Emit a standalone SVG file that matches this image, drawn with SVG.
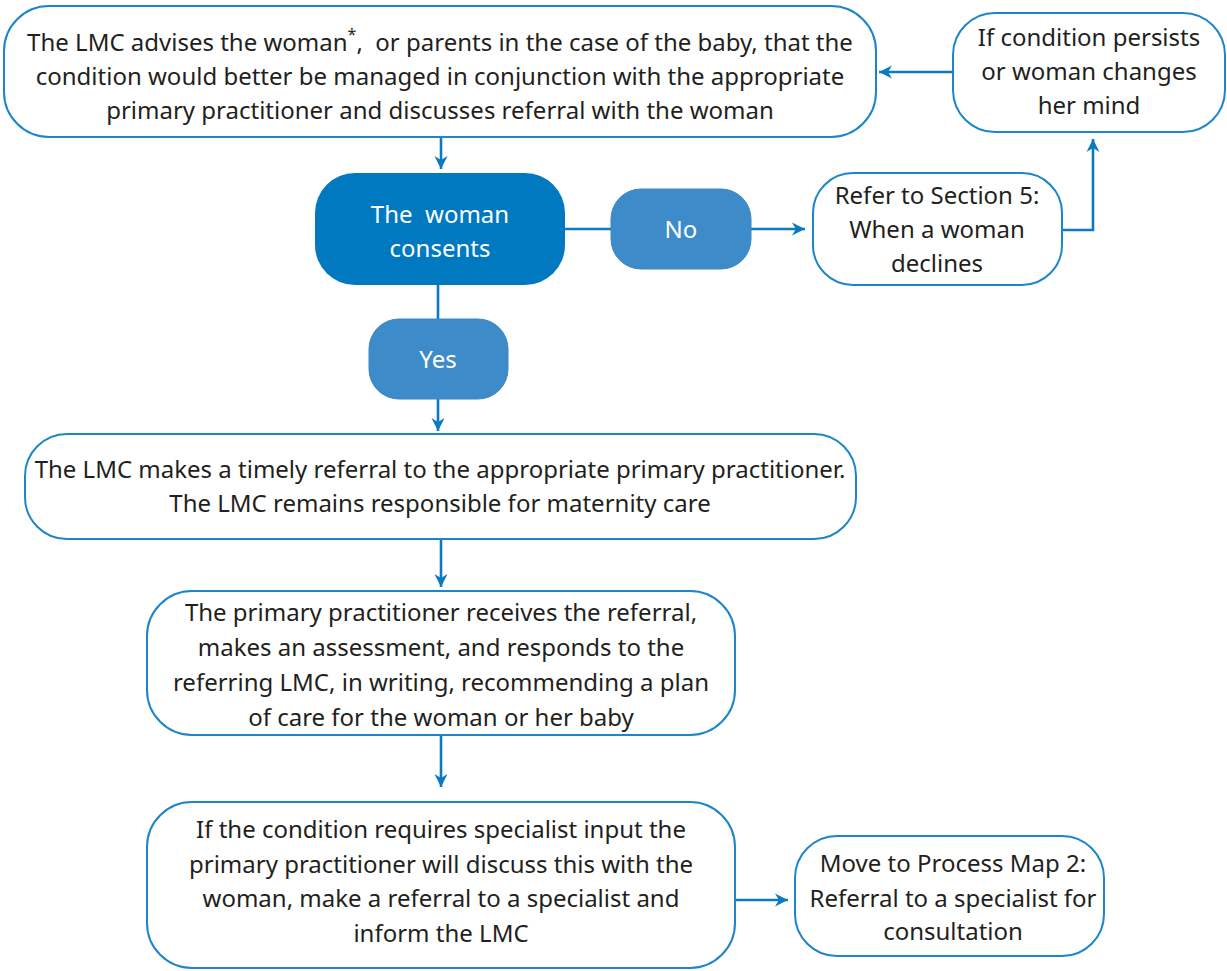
<svg xmlns="http://www.w3.org/2000/svg" width="1227" height="971" viewBox="0 0 1227 971">
<style>
.box{fill:#fff;stroke:#1c86c8;stroke-width:2}
.dark{fill:#0079c1;stroke:none}
.mid{fill:#3d8bc9;stroke:#3a86c4;stroke-width:1}
text{font-family:"Noto Sans","Open Sans",sans-serif;font-size:24px;fill:#231f20;text-anchor:middle}
.w{fill:#fff}
.c{fill:none;stroke:#0b7ac1;stroke-width:2.6}
</style>
<defs>
<marker id="ah" viewBox="0 0 10 10" refX="10" refY="5" markerWidth="14" markerHeight="13" markerUnits="userSpaceOnUse" orient="auto" style="overflow:visible">
<path d="M0,0 L10,5 L0,10 L3,5 Z" fill="#0b7ac1"/>
</marker>
</defs>
<g id="connectors">
<path class="c" d="M441,137 V169" marker-end="url(#ah)"/>
<path class="c" d="M953,72 H879" marker-end="url(#ah)"/>
<path class="c" d="M565,229 H611"/>
<path class="c" d="M751,229 H805" marker-end="url(#ah)"/>
<path class="c" d="M1062,230 H1093 V139" marker-end="url(#ah)"/>
<path class="c" d="M438,285 V319"/>
<path class="c" d="M438,399 V431" marker-end="url(#ah)"/>
<path class="c" d="M441,539 V587" marker-end="url(#ah)"/>
<path class="c" d="M441,735 V787" marker-end="url(#ah)"/>
<path class="c" d="M735,900 H788" marker-end="url(#ah)"/>
</g>
<g id="n1">
<rect class="box" x="4" y="6" width="872" height="131" rx="45"/>
<text x="440" y="51" xml:space="preserve">The LMC advises the woman<tspan dy="-11" font-size="16">*</tspan><tspan dy="11">,  or parents in the case of the baby, that the</tspan></text>
<text x="440" y="85">condition would better be managed in conjunction with the appropriate</text>
<text x="440" y="119">primary practitioner and discusses referral with the woman</text>
</g>
<g id="n2">
<rect class="box" x="953" y="13" width="272" height="119" rx="42"/>
<text x="1089" y="46">If condition persists</text>
<text x="1089" y="80">or woman changes</text>
<text x="1089" y="114">her mind</text>
</g>
<g id="n3">
<rect class="dark" x="315" y="173" width="250" height="112" rx="40"/>
<text class="w" x="440" y="223" xml:space="preserve">The  woman</text>
<text class="w" x="440" y="257">consents</text>
</g>
<g id="n4">
<rect class="mid" x="611" y="189" width="140" height="80" rx="30"/>
<text class="w" x="681" y="238">No</text>
</g>
<g id="n5">
<rect class="box" x="813" y="173" width="249" height="112" rx="40"/>
<text x="937" y="204">Refer to Section 5:</text>
<text x="937" y="238">When a woman</text>
<text x="937" y="272">declines</text>
</g>
<g id="n6">
<rect class="mid" x="369" y="319" width="139" height="80" rx="30"/>
<text class="w" x="438" y="368">Yes</text>
</g>
<g id="n7">
<rect class="box" x="25" y="434" width="831" height="105" rx="42"/>
<text x="440" y="478">The LMC makes a timely referral to the appropriate primary practitioner.</text>
<text x="440" y="512">The LMC remains responsible for maternity care</text>
</g>
<g id="n8">
<rect class="box" x="147" y="591" width="588" height="144" rx="45"/>
<text x="441" y="621">The primary practitioner receives the referral,</text>
<text x="441" y="656">makes an assessment, and responds to the</text>
<text x="441" y="691">referring LMC, in writing, recommending a plan</text>
<text x="441" y="726">of care for the woman or her baby</text>
</g>
<g id="n9">
<rect class="box" x="147" y="802" width="588" height="166" rx="45"/>
<text x="441" y="838">If the condition requires specialist input the</text>
<text x="441" y="873">primary practitioner will discuss this with the</text>
<text x="441" y="907">woman, make a referral to a specialist and</text>
<text x="441" y="942">inform the LMC</text>
</g>
<g id="n10">
<rect class="box" x="795" y="836" width="309" height="120" rx="42"/>
<text x="953" y="872">Move to Process Map 2:</text>
<text x="953" y="907">Referral to a specialist for</text>
<text x="953" y="940">consultation</text>
</g>
</svg>
